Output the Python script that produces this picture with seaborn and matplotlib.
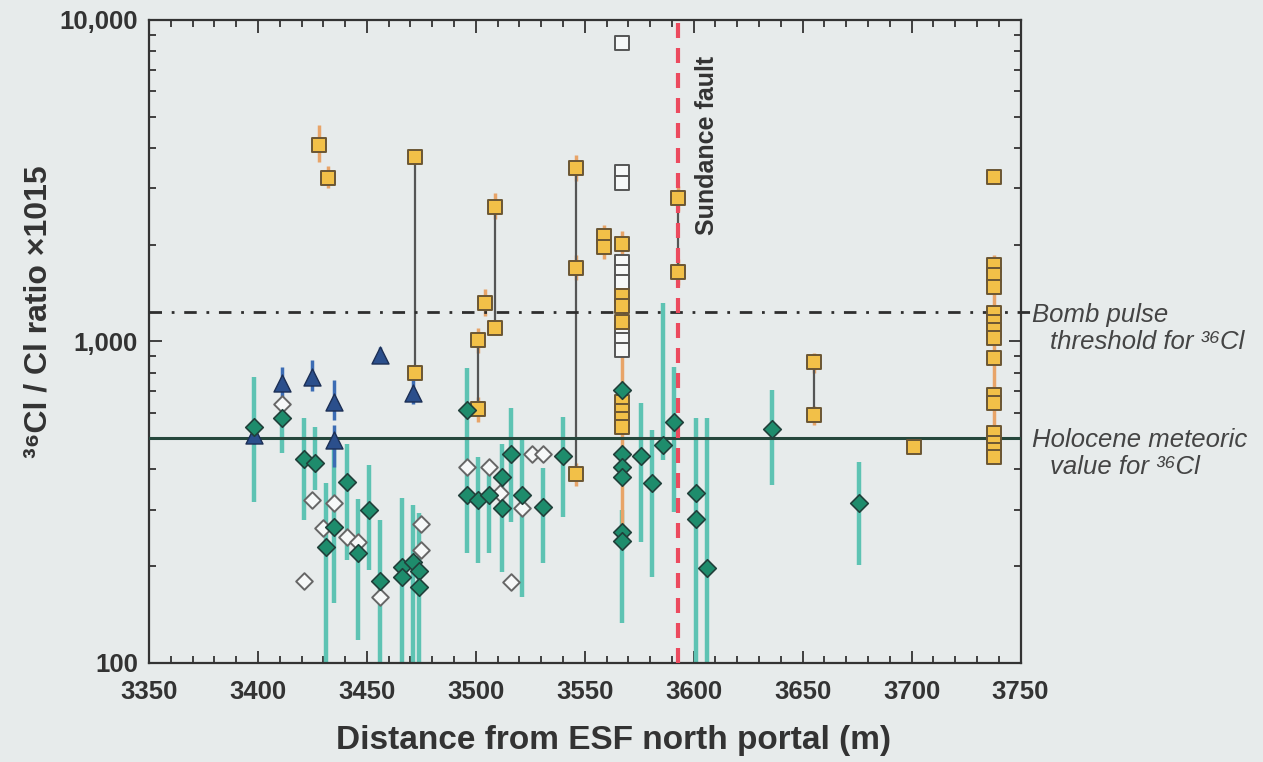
import numpy as np
import pandas as pd
import seaborn as sns
import matplotlib.pyplot as plt
from matplotlib.ticker import FixedLocator, MultipleLocator, LogLocator, NullFormatter

# ---- data ----
# filled diamonds (green) with their vertical ranges
diamond_x = [3398, 3411, 3421, 3426, 3441, 3435, 3431, 3446, 3451, 3456, 3466, 3466, 3471, 3474, 3474,
             3496, 3496, 3501, 3506, 3512, 3512, 3516, 3521, 3531, 3540,
             3567, 3567, 3567, 3567, 3567, 3567, 3576, 3581, 3586, 3591, 3601, 3601, 3606, 3636, 3676]
diamond_y = [542, 578, 431, 419, 365, 265, 230, 220, 299, 180, 199, 185, 206, 193, 172,
             612, 333, 321, 333, 303, 379, 445, 333, 305, 439,
             707, 447, 407, 379, 256, 240, 439, 363, 476, 562, 338, 280, 198, 534, 315]

range_x = [3398, 3411, 3421, 3426, 3441, 3435, 3431, 3446, 3451, 3456, 3466, 3471, 3474,
           3496, 3501, 3506, 3512, 3516, 3521, 3531, 3540, 3567, 3576, 3581, 3586, 3591,
           3601, 3606, 3636, 3676]
range_hi = [776, 650, 578, 542, 480, 480, 363, 323, 413, 279, 326, 310, 293,
            827, 437, 418, 480, 621, 494, 404, 583, 299, 644, 531, 1318, 834,
            578, 578, 707, 422]
range_lo = [317, 450, 279, 346, 209, 154, 90, 118, 195, 90, 90, 90, 90,
            220, 205, 220, 192, 274, 160, 205, 285, 133, 237, 185, 428, 295,
            90, 90, 358, 202]

# open diamonds
open_d_x = [3411, 3421, 3425, 3435, 3430, 3441, 3446, 3456, 3475, 3475, 3496, 3506, 3511, 3521, 3526,
            3531, 3516]
open_d_y = [640, 180, 321, 315, 262, 247, 237, 160, 271, 225, 407, 407, 338, 303, 448, 446, 178]

# triangles (blue) and their ranges
tri_x = [3398, 3411, 3425, 3435, 3435, 3456, 3471]
tri_y = [512, 743, 776, 649, 494, 908, 691]
tri_hi = [540, 834, 876, 759, 550, 960, 760]
tri_lo = [480, 660, 700, 570, 407, 860, 640]

# filled squares (yellow)
sq_x = [3428, 3432, 3472, 3472, 3501, 3501, 3504, 3509, 3509, 3546, 3546, 3546, 3559, 3559,
        3567, 3567, 3567, 3567, 3567, 3567, 3567, 3567, 3593, 3593, 3655, 3655, 3701,
        3738, 3738, 3738, 3738, 3738, 3738, 3738, 3738, 3738, 3738, 3738, 3738, 3738, 3738, 3738]
sq_y = [4085, 3225, 3750, 798, 1011, 615, 1318, 2620, 1102, 3465, 1694, 387, 2130, 1967,
        2011, 1386, 1289, 1150, 649, 606, 573, 541, 2795, 1647, 863, 590, 470,
        3250, 1729, 1610, 1478, 1227, 1150, 1086, 1025, 889, 682, 644, 519, 483, 460, 437]

# open squares
open_s_x = [3567, 3567, 3567, 3567, 3567, 3567, 3567, 3567, 3567]
open_s_y = [8475, 3365, 3115, 1767, 1645, 1530, 1086, 1010, 943]

# orange ranges of the squares
sq_bar_x = [3428, 3432, 3509, 3504, 3501, 3501, 3546, 3546, 3546, 3559, 3567, 3567,
            3593, 3593, 3655, 3655, 3738]
sq_bar_hi = [4700, 3500, 2900, 1450, 1100, 670, 3800, 1850, 420, 2300, 2200, 940,
             3050, 1800, 920, 630, 1850]
sq_bar_lo = [3600, 3000, 2400, 1200, 920, 560, 3150, 1550, 355, 1800, 1850, 260,
             2550, 1500, 800, 550, 420]

# grey tie lines between samples of the same location
tie_x = [3472, 3501, 3509, 3546, 3593, 3655]
tie_hi = [3750, 1011, 2620, 3465, 2795, 863]
tie_lo = [798, 615, 1102, 387, 1647, 590]

bomb_pulse = 1230
holocene = 500
sundance_fault = 3593

sns.set_style('ticks')
plt.rcParams['font.family'] = ['Liberation Sans', 'DejaVu Sans']
plt.rcParams['font.weight'] = 'bold'

bg = '#e7ebeb'
ink = '#333333'
fig = plt.figure(figsize=(12.63, 7.62), dpi=100, facecolor=bg)
ax = fig.add_axes([0.118, 0.130, 0.690, 0.844])
ax.set_facecolor(bg)
ax.set_yscale('log')

# ranges
ax.vlines(range_x, range_lo, range_hi, color='#5ec3b3', lw=3.2, zorder=2)
ax.vlines(tri_x, tri_lo, tri_hi, color='#3c6cb4', lw=2.5, zorder=2)
ax.vlines(sq_bar_x, sq_bar_lo, sq_bar_hi, color='#e8a468', lw=2.5, zorder=2)
ax.vlines(tie_x, tie_lo, tie_hi, color='#555555', lw=1.6, zorder=2)

# reference lines
ax.axhline(holocene, color='#26473c', lw=2.2, zorder=3)
ax.axhline(bomb_pulse, xmax=1.012, color='#2e2e2e', lw=2.0, ls=(0, (4.5, 3.5, 1, 3.5)),
           zorder=3, clip_on=False)
ax.axvline(sundance_fault, color='#ec4a5e', lw=3.0, ls=(0, (3.6, 2.4)), zorder=3)

# markers
sns.scatterplot(x=open_s_x, y=open_s_y, marker='s', s=115, color='#f6f8f8', edgecolor='#555555',
                linewidth=1.4, zorder=4, ax=ax)
sns.scatterplot(x=sq_x, y=sq_y, marker='s', s=115, color='#f2c048', edgecolor='#6b5634',
                linewidth=1.4, zorder=5, ax=ax)
sns.scatterplot(x=open_d_x, y=open_d_y, marker='D', s=72, color='#f6f8f8', edgecolor='#666666',
                linewidth=1.4, zorder=4, ax=ax)
sns.scatterplot(x=tri_x, y=tri_y, marker='^', s=150, color='#2b4f8c', edgecolor='#1c2f55',
                linewidth=1.0, zorder=5, ax=ax)
sns.scatterplot(x=diamond_x, y=diamond_y, marker='D', s=80, color='#1e8c6c', edgecolor='#20403a',
                linewidth=1.2, zorder=6, ax=ax)

# axes
ax.set_xlim(3350, 3750)
ax.set_ylim(100, 10000)
ax.xaxis.set_major_locator(MultipleLocator(50))
ax.xaxis.set_minor_locator(MultipleLocator(10))
ax.yaxis.set_major_locator(FixedLocator([100, 1000, 10000]))
ax.yaxis.set_minor_locator(LogLocator(base=10, subs=np.arange(2, 10)))
ax.yaxis.set_minor_formatter(NullFormatter())
ax.set_yticklabels(['100', '1,000', '10,000'])
ax.tick_params(which='both', direction='in', top=True, right=True, colors=ink, width=1.3)
ax.tick_params(which='major', length=9, labelsize=18.5)
ax.tick_params(axis='x', which='major', pad=12)
ax.tick_params(axis='y', which='major', pad=8)
ax.tick_params(which='minor', length=5)
for lab in ax.get_xticklabels() + ax.get_yticklabels():
    lab.set_fontweight('bold')
for sp in ax.spines.values():
    sp.set_color(ink)
    sp.set_linewidth(1.6)

ax.set_xlabel('Distance from ESF north portal (m)', fontsize=24, fontweight='bold', color=ink)
ax.xaxis.set_label_coords(0.533, -0.097)
ax.set_ylabel('³⁶Cl / Cl ratio ×1015', fontsize=23, fontweight='bold', color=ink)
ax.yaxis.set_label_coords(-0.110, 0.546)

ax.text(3606, 2143, 'Sundance fault', rotation=90, fontsize=18, fontweight='bold',
        color=ink, ha='center', va='bottom', zorder=7)

txt = dict(fontsize=18.5, style='italic', fontweight='normal', color='#444444', va='center')
fig.text(0.817, 0.587, 'Bomb pulse', **txt)
fig.text(0.831, 0.551, 'threshold for ³⁶Cl', **txt)
fig.text(0.817, 0.423, 'Holocene meteoric', **txt)
fig.text(0.831, 0.387, 'value for ³⁶Cl', **txt)

fig.savefig('out.png', dpi=100, facecolor=bg)
